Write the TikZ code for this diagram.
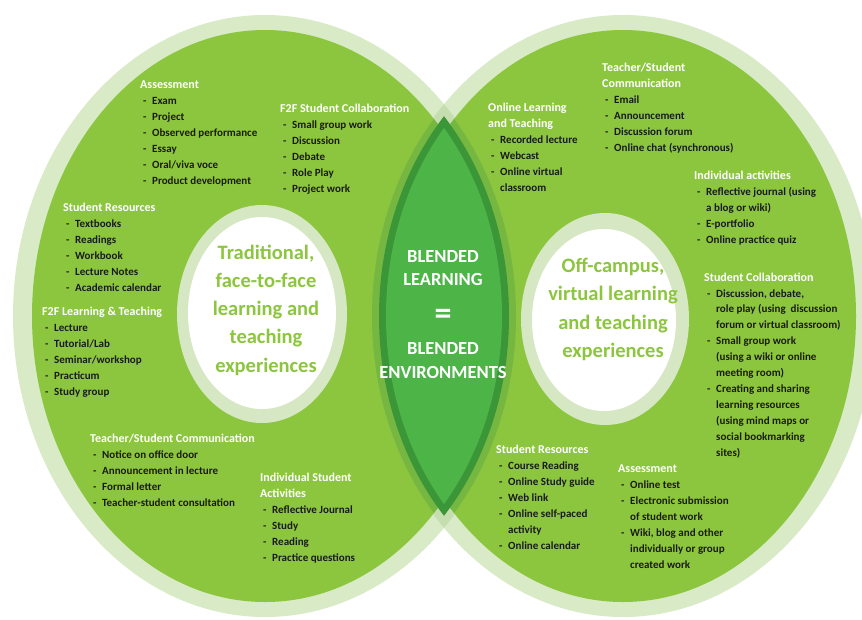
\documentclass[tikz,border=0pt]{standalone}
\usepackage{fontspec}
\setmainfont{Carlito}
\definecolor{ringlight}{HTML}{D8EAC6}
\definecolor{ringover}{HTML}{C6DDB0}
\definecolor{bggreen}{HTML}{8CC63F}
\definecolor{bandgreen}{HTML}{76B741}
\definecolor{lensdark}{HTML}{3A9637}
\definecolor{lensmid}{HTML}{4DB548}
\definecolor{innerring}{HTML}{D6E8C3}
\definecolor{txtdark}{HTML}{1A1A1A}
\newcommand\bhd[1]{{\color{white}\bfseries\fontsize{12}{15.9}\selectfont #1}}
\newcommand\bli[1]{\hspace*{3pt}\makebox[9pt][l]{-}#1}
\newcommand\bcont[1]{\hspace*{12pt}#1}
\tikzset{
  blk/.style={anchor=base west, inner sep=0pt, align=left, text=txtdark,
    font=\bfseries\fontsize{11}{15.9}\selectfont},
  ctrtxt/.style={align=center, inner sep=0pt, text=bggreen,
    font=\bfseries\fontsize{20.5}{28.2}\selectfont},
  lenstxt/.style={align=center, inner sep=0pt, text=white,
    font=\bfseries\fontsize{18.5}{22.5}\selectfont},
}
\begin{document}
\begin{tikzpicture}[x=1pt,y=-1pt]
\useasboundingbox (0,0) rectangle (862,619);
\clip (0,0) rectangle (862,619);
\fill[white] (0,0) rectangle (862,619);
% outer light rings
\fill[ringlight] (265,316) ellipse [x radius=252, y radius=301];
\fill[ringlight] (623,316) ellipse [x radius=252, y radius=301];
\begin{scope}
  \clip (265,316) ellipse [x radius=252, y radius=301];
  \fill[ringover] (623,316) ellipse [x radius=252, y radius=301];
\end{scope}
% green discs
\fill[bggreen] (265,316) ellipse [x radius=233, y radius=286];
\fill[bggreen] (623,316) ellipse [x radius=233, y radius=286];
% bands of light rings over the other green disc
\begin{scope}
  \clip (623,316) ellipse [x radius=233, y radius=286];
  \fill[bandgreen] (265,316) ellipse [x radius=251, y radius=300];
\end{scope}
\begin{scope}
  \clip (265,316) ellipse [x radius=233, y radius=286];
  \fill[bandgreen] (623,316) ellipse [x radius=251, y radius=300];
\end{scope}
% lens
\begin{scope}
  \clip (265,316) ellipse [x radius=244, y radius=294];
  \fill[lensdark] (623,316) ellipse [x radius=244, y radius=294];
\end{scope}
\begin{scope}
  \clip (265,316) ellipse [x radius=237, y radius=287];
  \fill[lensmid] (623,316) ellipse [x radius=237, y radius=287];
\end{scope}
% inner circles
\fill[innerring] (262,314) ellipse [x radius=85, y radius=109];
\fill[white] (262,313) ellipse [x radius=74, y radius=96];
\fill[innerring] (605,319) ellipse [x radius=84, y radius=106];
\fill[white] (604,320) ellipse [x radius=72, y radius=91];

% centre texts
\node[ctrtxt] (trad) at (266,310) {Traditional,\\face-to-face\\learning and\\teaching\\experiences};
\node[ctrtxt] (offc) at (613,309.5) {Off-campus,\\virtual learning\\and teaching\\experiences};
\node[lenstxt] (bl1) at (443,268) {BLENDED\\LEARNING};
\node[lenstxt, font=\bfseries\fontsize{34}{34}\selectfont] (eq) at (443,317) {=};
\node[lenstxt, font=\bfseries\fontsize{18.5}{24}\selectfont] (bl2) at (443,361) {BLENDED\\ENVIRONMENTS};

% left blocks (anchor = baseline of last line)
\node[blk] (a1) at (140,184) {\bhd{Assessment}\\\bli{Exam}\\\bli{Project}\\\bli{Observed performance}\\\bli{Essay}\\\bli{Oral/viva voce}\\\bli{Product development}};
\node[blk] (a2) at (280,192) {\bhd{F2F Student Collaboration}\\\bli{Small group work}\\\bli{Discussion}\\\bli{Debate}\\\bli{Role Play}\\\bli{Project work}};
\node[blk] (a3) at (63,291) {\bhd{Student Resources}\\\bli{Textbooks}\\\bli{Readings}\\\bli{Workbook}\\\bli{Lecture Notes}\\\bli{Academic calendar}};
\node[blk] (a4) at (42,395) {\bhd{F2F Learning \& Teaching}\\\bli{Lecture}\\\bli{Tutorial/Lab}\\\bli{Seminar/workshop}\\\bli{Practicum}\\\bli{Study group}};
\node[blk] (a5) at (90,506) {\bhd{Teacher/Student Communication}\\\bli{Notice on office door}\\\bli{Announcement in lecture}\\\bli{Formal letter}\\\bli{Teacher-student consultation}};
\node[blk] (a6) at (260,561) {\bhd{Individual Student}\\\bhd{Activities}\\\bli{Reflective Journal}\\\bli{Study}\\\bli{Reading}\\\bli{Practice questions}};

% right blocks
\node[blk] (b1) at (488,191) {\bhd{Online Learning}\\\bhd{and Teaching}\\\bli{Recorded lecture}\\\bli{Webcast}\\\bli{Online virtual}\\\bcont{classroom}};
\node[blk] (b2) at (602,151) {\bhd{Teacher/Student}\\\bhd{Communication}\\\bli{Email}\\\bli{Announcement}\\\bli{Discussion forum}\\\bli{Online chat (synchronous)}};
\node[blk] (b3) at (694,243) {\bhd{Individual activities}\\\bli{Reflective journal (using}\\\bcont{a blog or wiki)}\\\bli{E-portfolio}\\\bli{Online practice quiz}};
\node[blk] (b4) at (704,456) {\bhd{Student Collaboration}\\\bli{Discussion, debate,}\\\bcont{role play (using\ \ discussion}\\\bcont{forum or virtual classroom)}\\\bli{Small group work}\\\bcont{(using a wiki or online}\\\bcont{meeting room)}\\\bli{Creating and sharing}\\\bcont{learning resources}\\\bcont{(using mind maps or}\\\bcont{social bookmarking}\\\bcont{sites)}};
\node[blk] (b5) at (496,549) {\bhd{Student Resources}\\\bli{Course Reading}\\\bli{Online Study guide}\\\bli{Web link}\\\bli{Online self-paced}\\\bcont{activity}\\\bli{Online calendar}};
\node[blk] (b6) at (618,568) {\bhd{Assessment}\\\bli{Online test}\\\bli{Electronic submission}\\\bcont{of student work}\\\bli{Wiki, blog and other}\\\bcont{individually or group}\\\bcont{created work}};
\end{tikzpicture}
\end{document}
